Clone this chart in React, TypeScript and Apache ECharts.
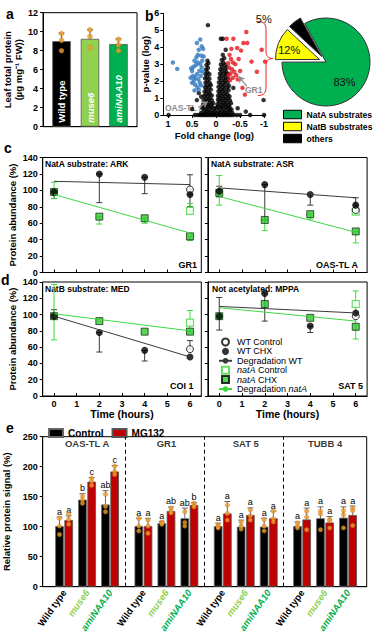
import React, { useEffect, useRef } from 'react';
import * as echarts from 'echarts';

const FONT = '"Liberation Sans", Arial, sans-serif';

// ---------- panel a ----------
const genotypes = ['Wild type', 'muse6', 'amiNAA10'];
const genotypeColors = ['#000000', '#92D050', '#00B050'];
const leafProtein = [9.0, 9.25, 8.7];
const leafProteinSd = [0.85, 0.95, 0.55];
const leafProteinDots = [[9.8, 9.1, 8.0], [10.2, 9.5, 8.3], [9.2, 8.6, 8.0]];

// ---------- panel b ----------
const volcanoOthers = [
  [0.99, 0], [0.44, 0], [0.38, 0], [0.33, 0], [0.29, 0], [0.25, 0], [0.21, 0], [0.17, 0], [0.13, 0], [0.09, 0], [0.05, 0], [0.01, 0],
  [-0.03, 0], [-0.07, 0], [-0.11, 0], [-0.15, 0], [-0.19, 0], [-0.23, 0], [-0.27, 0], [-0.31, 0], [-0.36, 0], [-0.43, 0], [-0.5, 0], [-0.71, 0], [-1.0, 0],
  [0.31, 0.12], [0.26, 0.18], [0.22, 0.1], [0.19, 0.25], [0.15, 0.15], [0.11, 0.22], [0.07, 0.12], [0.03, 0.2], [-0.01, 0.1], [-0.05, 0.24],
  [-0.09, 0.14], [-0.13, 0.2], [-0.17, 0.1], [-0.21, 0.22], [-0.25, 0.15], [-0.29, 0.25], [-0.34, 0.12],
  [0.28, 0.38], [0.24, 0.45], [0.2, 0.35], [0.16, 0.5], [0.12, 0.4], [0.08, 0.48], [0.04, 0.36], [0, 0.42], [-0.04, 0.5], [-0.08, 0.38],
  [-0.12, 0.47], [-0.16, 0.35], [-0.2, 0.5], [-0.24, 0.4], [-0.28, 0.46], [-0.32, 0.33],
  [0.27, 0.62], [0.22, 0.7], [0.18, 0.6], [0.14, 0.72], [0.1, 0.62], [0.06, 0.7], [-0.03, 0.64], [-0.07, 0.75], [-0.11, 0.6], [-0.15, 0.72],
  [-0.19, 0.62], [-0.23, 0.74], [-0.27, 0.6], [-0.31, 0.7],
  [0.26, 0.88], [0.21, 0.95], [0.17, 0.85], [0.13, 0.98], [0.09, 0.88], [-0.04, 0.9], [-0.08, 1.0], [-0.12, 0.86], [-0.16, 0.97], [-0.2, 0.88],
  [-0.25, 0.98], [-0.29, 0.86],
  [0.25, 1.12], [0.21, 1.22], [0.17, 1.1], [0.13, 1.25], [0.09, 1.15], [-0.04, 1.14], [-0.08, 1.26], [-0.12, 1.12], [-0.16, 1.24], [-0.2, 1.1],
  [-0.24, 1.2], [-0.28, 1.1],
  [0.24, 1.38], [0.2, 1.48], [0.16, 1.36], [0.11, 1.5], [-0.05, 1.4], [-0.09, 1.52], [-0.13, 1.38], [-0.17, 1.5], [-0.21, 1.36], [-0.26, 1.46],
  [0.23, 1.64], [0.19, 1.74], [0.15, 1.62], [0.11, 1.76], [-0.05, 1.66], [-0.1, 1.78], [-0.14, 1.64], [-0.18, 1.76], [-0.23, 1.62], [-0.27, 1.72],
  [0.22, 1.9], [0.18, 2.0], [0.13, 1.88], [-0.06, 1.92], [-0.1, 2.04], [-0.15, 1.9], [-0.19, 2.02], [-0.24, 1.9],
  [0.23, 2.16], [0.19, 2.26], [0.14, 2.14], [-0.07, 2.18], [-0.11, 2.3], [-0.16, 2.16], [-0.2, 2.28], [-0.25, 2.14],
  [0.22, 2.42], [0.18, 2.52], [0.14, 2.4], [-0.08, 2.44], [-0.12, 2.56], [-0.17, 2.42], [-0.21, 2.54], [-0.25, 2.42],
  [0.21, 2.68], [0.17, 2.78], [-0.09, 2.7], [-0.13, 2.82], [-0.18, 2.68], [-0.22, 2.8],
  [0.2, 2.95], [0.16, 3.05], [0.18, 3.2], [-0.1, 2.98], [-0.15, 3.08], [-0.19, 2.96], [-0.12, 3.25], [-0.17, 3.35], [-0.14, 3.55],
  [0.17, 5.3], [-0.1, 4.5], [-0.14, 4.5], [-0.2, 3.85], [0.4, 0.88], [0.31, 1.08], [-0.99, 0.88], [-0.45, 0.4], [0.5, 0.35], [-0.62, 0.2],
  [0.36, 1.3], [-0.36, 1.6],
];
const volcanoBlue = [
  [0.9, 3.1], [0.81, 2.72], [0.4, 4.25], [0.33, 4.45], [0.3, 4.05], [0.36, 3.85], [0.27, 3.9], [0.38, 3.55], [0.31, 3.5], [0.45, 3.2],
  [0.42, 2.95], [0.5, 2.6], [0.48, 2.3], [0.46, 2.05], [0.4, 2.4], [0.35, 2.6], [0.33, 3.0], [0.29, 3.2], [0.44, 1.8], [0.39, 1.65],
  [0.5, 1.9], [0.53, 2.2], [0.37, 2.1], [0.34, 1.9], [0.3, 2.8], [0.41, 3.4], [0.47, 2.85], [0.36, 1.5], [0.32, 2.3], [0.28, 2.55],
  [0.52, 2.75], [0.43, 2.2], [0.38, 3.1], [0.26, 3.45], [0.31, 1.75], [0.45, 1.45],
];
const volcanoRed = [
  [-0.22, 4.5], [-0.36, 4.5], [-0.63, 4.9], [-0.57, 4.25], [-0.65, 4.25], [-0.44, 3.95], [-0.52, 3.8], [-0.95, 3.85], [-1.02, 3.15],
  [-0.74, 3.15], [-0.85, 2.55], [-0.6, 1.2], [-0.28, 3.55], [-0.31, 3.3], [-0.25, 3.05], [-0.35, 3.1], [-0.4, 3.0], [-0.27, 2.8],
  [-0.33, 2.7], [-0.38, 2.55], [-0.3, 2.45], [-0.42, 2.35], [-0.26, 2.35], [-0.35, 2.2], [-0.45, 2.1], [-0.29, 2.05], [-0.5, 2.6],
  [-0.47, 3.3], [-0.55, 1.6], [-0.32, 3.9],
];
const foldTicks = [1, 0.5, 0, -0.5, -1];
const pieNames = ['NatA substrates', 'NatB substrates', 'others'];
const pieValues = [83, 12, 5];
const pieColors = ['#00B050', '#FFFF00', '#000000'];

// ---------- panels c, d ----------
const hours = [0, 2, 4, 6];
const timeTicks = [0, 1, 2, 3, 4, 5, 6];
const panelTitles = ['NatA substrate: ARK', 'NatA substrate: ASR', 'NatB substrate: MED', 'Not acetylated: MPPA'];
const panelProteins = ['GR1', 'OAS-TL A', 'COI 1', 'SAT 5'];
const wtChx = [[98, 120, 116, 95], [99, 107, 95, 82], [98, 78, 56, 48], [98, 126, 86, 102]];
const wtControl6 = [101, 76, 57.5, 98];
const natChx = [[98, 68, 66, 44], [97, 64, 71, 50], [98, 92, 79, 79], [98, 113, 96, 85]];
const natControl6 = [75, 74, 90, 113];
const wtFit = [[111, 107], [103, 91], [98, 48], [110, 102]];
const natFit = [[95, 48], [92.5, 49], [101, 80], [108.5, 92]];
const wtErr = [
  [[0, 90, 99], [2, 85, 120], [4, 96, 116], [6, 80, 95], [6, 101, 119]],
  [[0, 92, 105], [2, 64, 107], [4, 82, 95], [6, 82, 91]],
  [[0, 98, 106], [2, 54, 78], [4, 43, 56], [6, 57.5, 68]],
  [[0, 81, 121], [2, 92, 126], [4, 78, 86]],
];
const natErr = [
  [[0, 90, 110], [2, 59, 68], [4, 60, 66], [6, 39, 44], [6, 75, 84]],
  [[0, 82, 118], [2, 51, 64], [4, 65, 71], [6, 36, 50]],
  [[0, 69, 137], [6, 79, 105]],
  [[6, 70, 129]],
];
const legendNames = ['WT Control', 'WT CHX', 'Degradation WT', 'natA Control', 'natA CHX', 'Degradation natA'];

// ---------- panel e ----------
const proteins = ['OAS-TL A', 'GR1', 'SAT 5', 'TUBB 4'];
const controlMean = [[101, 145, 137], [101, 106, 114], [101, 100, 100], [101, 114, 115]];
const controlSd = [[15, 10, 23], [13, 3, 17], [5, 11, 14], [7, 19, 18]];
const mg132Mean = [[111, 175, 192], [101, 126, 136], [122, 119.5, 114], [112, 107, 119.5]];
const mg132Sd = [[7, 7, 10], [13, 7, 4], [20, 12, 12], [19, 10, 15]];
const controlDots = [
  [[114, 101, 87], [151, 145, 139], [154, 134, 125]],
  [[114, 101, 93], [108, 106, 104], [125, 107, 101]],
  [[103, 100, 98], [108, 101, 96], [112, 101, 93]],
  [[106, 101, 98], [126, 121, 95], [127, 120, 98]],
];
const mg132Dots = [
  [[121, 112, 104], [181, 176, 169], [201, 192, 187]],
  [[111, 101, 89], [131, 126, 123], [139, 136, 133]],
  [[136, 122, 111], [128, 118, 111], [126, 113, 108]],
  [[126, 116, 95], [112, 110, 98], [131, 127, 102]],
];
const controlLetters = [['a', 'b', 'ab'], ['a', 'a', 'ab'], ['a', 'a', 'a'], ['a', 'a', 'a']];
const mg132Letters = [['a', 'c', 'c'], ['a', 'ab', 'b'], ['a', 'a', 'a'], ['a', 'a', 'a']];

// layout constants (positions of groups on the e x axis)
const GROUP_STEP = 3.45;
const PAIR_OFFSET = 0.2;
const GREEN = '#3FD83F';
const GREEN_FILL = '#2BCB2B';
const ORANGE = '#EE9E30';
const SQUARE = 'path://M0,0L10,0L10,10L0,10Z';

echarts.graphic.registerShape(
  'brace',
  echarts.graphic.extendPath(
    'M0 0 C6 0 8 3 8 8 L8 30 C8 34 10 37 15 37 C10 37 8 40 8 44 L8 66 C8 71 6 74 0 74',
    {}
  )
);

function errorRenderer(color: string, cap: number, topOnly = false, letters?: string[]) {
  return (params: any, api: any) => {
    const x = api.value(0);
    const lo = api.coord([x, api.value(1)]);
    const hi = api.coord([x, api.value(2)]);
    const style = { stroke: color, lineWidth: 1 };
    const children: any[] = [
      { type: 'line', shape: { x1: lo[0], y1: lo[1], x2: hi[0], y2: hi[1] }, style },
      { type: 'line', shape: { x1: hi[0] - cap, y1: hi[1], x2: hi[0] + cap, y2: hi[1] }, style },
    ];
    if (!topOnly) {
      children.push({ type: 'line', shape: { x1: lo[0] - cap, y1: lo[1], x2: lo[0] + cap, y2: lo[1] }, style });
    }
    if (letters) {
      children.push({
        type: 'text',
        x: hi[0],
        y: hi[1] - 1,
        style: {
          text: letters[params.dataIndex],
          fill: '#000',
          fontSize: 9,
          fontFamily: FONT,
          align: 'center',
          verticalAlign: 'bottom',
          textAlign: 'center',
          textVerticalAlign: 'bottom',
        },
      });
    }
    return { type: 'group', children };
  };
}

function buildOption() {
  const axisLine = { show: true, onZero: false, lineStyle: { color: '#000', width: 1 } };
  const tickLbl = { fontSize: 9, fontWeight: 'bold', color: '#000', fontFamily: FONT };
  const nameStyle = { fontSize: 9.5, fontWeight: 'bold', color: '#000', fontFamily: FONT };

  const grids: any[] = [
    { left: 43, top: 12.7, width: 94, height: 114, show: true, borderColor: '#000', borderWidth: 1 },
    { left: 163.3, top: 13.3, width: 102.2, height: 101.7 },
    { left: 42.7, top: 157.5, width: 158.6, height: 115, show: true, borderColor: '#000', borderWidth: 1 },
    { left: 207.9, top: 157.5, width: 159.2, height: 115, show: true, borderColor: '#000', borderWidth: 1 },
    { left: 42.7, top: 282, width: 158.6, height: 114, show: true, borderColor: '#000', borderWidth: 1 },
    { left: 207.9, top: 282, width: 159.2, height: 114, show: true, borderColor: '#000', borderWidth: 1 },
    { left: 42.7, top: 436.7, width: 324, height: 150, show: true, borderColor: '#000', borderWidth: 1 },
  ].map((g) => ({ ...g, outerBoundsMode: 'none', containLabel: false }));

  // e-axis positions
  const ePos: number[] = [];
  proteins.forEach((_, g) => genotypes.forEach((__, j) => ePos.push(g * GROUP_STEP + j)));
  const ePosGenotype = new Map<string, number>();
  ePos.forEach((p, i) => ePosGenotype.set(p.toFixed(2), i % 3));
  const boundaries = [1, 2, 3].map((g) => g * GROUP_STEP - 0.8);

  const xAxes: any[] = [
    { gridIndex: 0, type: 'value', min: -0.65, max: 2.65, axisLine, axisTick: { show: false }, axisLabel: { show: false }, splitLine: { show: false } },
    {
      gridIndex: 1, type: 'value', min: -1.03, max: 1.1, inverse: true, axisLine,
      axisTick: { show: true, length: 3, customValues: foldTicks },
      axisLabel: { ...tickLbl, margin: 4, customValues: foldTicks, formatter: (v: number) => String(v) },
      splitLine: { show: false },
      name: 'Fold change (log)', nameLocation: 'middle', nameGap: 15, nameTextStyle: nameStyle,
    },
  ];
  const yAxes: any[] = [
    {
      gridIndex: 0, type: 'value', min: 0, max: 12, interval: 2, axisLine,
      axisTick: { show: true, length: 3 }, axisLabel: { ...tickLbl, margin: 5 }, splitLine: { show: false },
      name: 'Leaf total protein\n(µg mg⁻¹ FW))', nameLocation: 'middle', nameGap: 13,
      nameTextStyle: { ...nameStyle, lineHeight: 11 },
    },
    {
      gridIndex: 1, type: 'value', min: 0, max: 6, interval: 1, axisLine,
      axisTick: { show: true, length: 3 }, axisLabel: { ...tickLbl, margin: 4 }, splitLine: { show: false },
      name: 'p-value (log)', nameLocation: 'middle', nameGap: 10, nameTextStyle: nameStyle,
    },
  ];
  for (let k = 0; k < 4; k++) {
    const isBottom = k >= 2;
    const isLeft = k % 2 === 0;
    xAxes.push({
      gridIndex: 2 + k, type: 'value', min: -0.5, max: 6.5, axisLine,
      axisTick: { show: true, inside: true, length: 3, customValues: timeTicks },
      axisLabel: { ...tickLbl, show: isBottom, margin: 3, customValues: timeTicks },
      splitLine: { show: false },
      name: isBottom ? 'Time (hours)' : '', nameLocation: 'middle', nameGap: 11,
      nameTextStyle: { ...nameStyle, fontSize: 10.5 },
    });
    yAxes.push({
      gridIndex: 2 + k, type: 'value', min: 0, max: 140, interval: 20, axisLine,
      axisTick: { show: true, length: 3 },
      axisLabel: { ...tickLbl, show: isLeft, margin: 5 },
      splitLine: { show: false },
      name: isLeft ? 'Protein abundance (%)' : '', nameLocation: 'middle', nameGap: 25, nameTextStyle: nameStyle,
    });
  }
  xAxes.push({
    gridIndex: 6, type: 'value', min: -0.93, max: 13.16, axisLine,
    axisTick: { show: false },
    axisLabel: {
      customValues: ePos, rotate: 55, margin: 4, fontFamily: FONT,
      formatter: (v: number) => {
        const j = ePosGenotype.get(v.toFixed(2)) ?? 0;
        return `{g${j}|${genotypes[j]}}`;
      },
      rich: {
        g0: { color: genotypeColors[0], fontWeight: 'bold', fontSize: 9.5, fontFamily: FONT },
        g1: { color: genotypeColors[1], fontWeight: 'bold', fontStyle: 'italic', fontSize: 9.5, fontFamily: FONT },
        g2: { color: genotypeColors[2], fontWeight: 'bold', fontStyle: 'italic', fontSize: 9.5, fontFamily: FONT },
      },
    },
    splitLine: { show: false },
  });
  yAxes.push({
    gridIndex: 6, type: 'value', min: 0, max: 250, interval: 50, axisLine,
    axisTick: { show: true, length: 3 }, axisLabel: { ...tickLbl, margin: 5 }, splitLine: { show: false },
    name: 'Relative protein signal (%)', nameLocation: 'middle', nameGap: 26, nameTextStyle: nameStyle,
  });

  const series: any[] = [];

  // ----- a -----
  series.push({
    type: 'bar', name: 'Leaf protein', xAxisIndex: 0, yAxisIndex: 0, barWidth: 18.5,
    data: genotypes.map((g, i) => ({
      value: [i, leafProtein[i]],
      itemStyle: { color: genotypeColors[i], borderColor: '#555', borderWidth: 0.8 },
      label: { fontStyle: i === 0 ? 'normal' : 'italic' },
    })),
    label: {
      show: true, position: 'insideBottom', rotate: 90, align: 'left', verticalAlign: 'middle', distance: 4,
      color: '#fff', fontSize: 9.5, fontWeight: 'bold', fontFamily: FONT,
      formatter: (p: any) => genotypes[p.dataIndex],
    },
  });
  series.push({
    type: 'custom', name: 'a-err', xAxisIndex: 0, yAxisIndex: 0,
    renderItem: errorRenderer('#555', 3, true),
    encode: { x: 0, y: [1, 2] },
    data: genotypes.map((_, i) => [i, leafProtein[i], leafProtein[i] + leafProteinSd[i]]),
  });
  series.push({
    type: 'scatter', name: 'a-dots', xAxisIndex: 0, yAxisIndex: 0, symbolSize: 5,
    itemStyle: { color: ORANGE, borderColor: '#B56A12', borderWidth: 0.4 },
    data: leafProteinDots.flatMap((ds, i) => ds.map((d) => [i, d])),
  });

  // ----- b -----
  series.push({
    type: 'scatter', name: 'volcano-others', xAxisIndex: 1, yAxisIndex: 1, symbolSize: 4.5,
    itemStyle: { color: '#000' }, data: volcanoOthers,
    markLine: {
      silent: true, symbol: ['none', 'arrow'], symbolSize: 6, label: { show: false },
      lineStyle: { color: '#8c8c8c', width: 1.3, type: 'solid' },
      data: [
        [{ coord: [0.37, 0.45] }, { coord: [0.17, 0.78] }],
        [{ coord: [-0.64, 1.7] }, { coord: [-0.47, 2.28] }],
      ],
    },
  });
  series.push({ type: 'scatter', name: 'volcano-up', xAxisIndex: 1, yAxisIndex: 1, symbolSize: 4.5, itemStyle: { color: '#2F78BE' }, data: volcanoBlue });
  series.push({ type: 'scatter', name: 'volcano-down', xAxisIndex: 1, yAxisIndex: 1, symbolSize: 4.5, itemStyle: { color: '#E4161E' }, data: volcanoRed });
  series.push({
    type: 'pie', name: 'substrates', center: [326, 62], radius: 44, startAngle: 119, clockwise: true,
    selectedMode: 'multiple', selectedOffset: 7, avoidLabelOverlap: false,
    itemStyle: { borderColor: '#333', borderWidth: 1 },
    labelLine: { show: false, length: 3, length2: 0 },
    data: pieNames.map((n, i) => ({
      name: n,
      value: pieValues[i],
      selected: i > 0,
      itemStyle: { color: pieColors[i] },
      labelLine: { show: false, length: 3, length2: 0 },
      label: {
        show: true, position: i === 2 ? 'outside' : 'inside', color: '#111', fontSize: 11, fontFamily: FONT,
        lineHeight: i === 0 ? 14 : 12,
        formatter: (p: any) => (i === 0 ? `\n${p.value}%  ` : `${p.value}%`),
        padding: i === 0 ? [0, 0, 0, 0] : i === 1 ? [0, 14, 10, 0] : [0, 16, 4, 0],
      },
    })),
  });

  // ----- c, d -----
  for (let k = 0; k < 4; k++) {
    const ax = { xAxisIndex: 2 + k, yAxisIndex: 2 + k };
    series.push(
      { type: 'line', name: 'Degradation WT', ...ax, symbol: 'none', data: [[0, wtFit[k][0]], [6, wtFit[k][1]]], lineStyle: { color: '#3a3a3a', width: 1 }, itemStyle: { color: '#3a3a3a' } },
      { type: 'line', name: 'Degradation natA', ...ax, symbol: 'none', data: [[0, natFit[k][0]], [6, natFit[k][1]]], lineStyle: { color: GREEN, width: 1 }, itemStyle: { color: GREEN } },
      { type: 'custom', name: 'wt-err', ...ax, renderItem: errorRenderer('#3a3a3a', 3), encode: { x: 0, y: [1, 2] }, data: wtErr[k] },
      { type: 'custom', name: 'nat-err', ...ax, renderItem: errorRenderer(GREEN, 3), encode: { x: 0, y: [1, 2] }, data: natErr[k] },
      { type: 'scatter', name: 'natA Control', ...ax, symbol: SQUARE, symbolKeepAspect: true, symbolSize: 7, itemStyle: { color: '#fff', borderColor: GREEN, borderWidth: 1.2 }, data: [[6, natControl6[k]]] },
      { type: 'scatter', name: 'natA CHX', ...ax, symbol: SQUARE, symbolKeepAspect: true, symbolSize: 7, itemStyle: { color: GREEN_FILL, borderColor: '#000', borderWidth: 0.8 }, data: hours.map((t, i) => [t, natChx[k][i]]) },
      { type: 'scatter', name: 'WT Control', ...ax, symbol: 'circle', symbolSize: 7, itemStyle: { color: '#fff', borderColor: '#000', borderWidth: 1 }, data: [[6, wtControl6[k]]] },
      { type: 'scatter', name: 'WT CHX', ...ax, symbol: 'circle', symbolSize: 7, itemStyle: { color: '#000' }, data: hours.map((t, i) => [t, wtChx[k][i]]) },
    );
  }

  // ----- e -----
  const eAx = { xAxisIndex: 6, yAxisIndex: 6 };
  const ctrlBars: any[] = [];
  const mgBars: any[] = [];
  const ctrlErr: any[] = [];
  const mgErr: any[] = [];
  const ctrlLet: string[] = [];
  const mgLet: string[] = [];
  const dots: any[] = [];
  proteins.forEach((_, g) => {
    genotypes.forEach((__, j) => {
      const base = g * GROUP_STEP + j;
      ctrlBars.push([base - PAIR_OFFSET, controlMean[g][j]]);
      mgBars.push([base + PAIR_OFFSET, mg132Mean[g][j]]);
      ctrlErr.push([base - PAIR_OFFSET, controlMean[g][j], controlMean[g][j] + controlSd[g][j]]);
      mgErr.push([base + PAIR_OFFSET, mg132Mean[g][j], mg132Mean[g][j] + mg132Sd[g][j]]);
      ctrlLet.push(controlLetters[g][j]);
      mgLet.push(mg132Letters[g][j]);
      controlDots[g][j].forEach((d) => dots.push([base - PAIR_OFFSET, d]));
      mg132Dots[g][j].forEach((d) => dots.push([base + PAIR_OFFSET, d]));
    });
  });
  series.push({
    type: 'bar', name: 'Control', ...eAx, barWidth: 8.6, barGap: '-100%', data: ctrlBars,
    itemStyle: { color: '#000', borderColor: '#666', borderWidth: 0.8 },
    markLine: {
      silent: true, symbol: 'none', label: { show: false },
      lineStyle: { color: '#000', width: 1, type: [4, 3] },
      data: boundaries.map((b) => ({ xAxis: b })),
    },
  });
  series.push({ type: 'bar', name: 'MG132', ...eAx, barWidth: 8.6, barGap: '-100%', data: mgBars, itemStyle: { color: '#C00000', borderColor: '#555', borderWidth: 0.8 } });
  series.push({ type: 'custom', name: 'ctrl-err', ...eAx, renderItem: errorRenderer('#6b6b6b', 3, true, ctrlLet), encode: { x: 0, y: [1, 2] }, data: ctrlErr });
  series.push({ type: 'custom', name: 'mg-err', ...eAx, renderItem: errorRenderer('#6b6b6b', 3, true, mgLet), encode: { x: 0, y: [1, 2] }, data: mgErr });
  series.push({ type: 'scatter', name: 'e-dots', ...eAx, symbolSize: 4.5, itemStyle: { color: ORANGE, borderColor: '#B56A12', borderWidth: 0.4 }, data: dots });
  series.push({
    type: 'scatter', name: 'e-titles', ...eAx, symbolSize: 0, silent: true,
    data: proteins.map((_, g) => [g * GROUP_STEP + 1, 238]),
    label: { show: true, position: 'inside', formatter: (p: any) => proteins[p.dataIndex], fontSize: 9.5, fontWeight: 'bold', color: '#000', fontFamily: FONT },
  });

  const txt = (text: string, left: number, top: number, size = 9, extra: any = {}) => ({
    type: 'text', left, top, silent: true,
    style: { text, fill: '#000', fontSize: size, fontWeight: 'bold', fontFamily: FONT, ...extra },
  });
  const rtxt = (text: string, right: number, top: number, size = 9) => ({
    type: 'text', right, top, silent: true,
    style: { text, fill: '#000', fontSize: size, fontWeight: 'bold', fontFamily: FONT },
  });

  const graphic: any[] = [
    txt('a', 6, 7, 14),
    txt('b', 145, 9, 14),
    txt('c', 4, 141, 14),
    txt('d', 1, 273, 14),
    txt('e', 6, 421, 14),
    txt('OAS-TL A', 165, 103.5, 8.5, { fill: '#8c8c8c' }),
    txt('GR1', 245, 85.5, 8.5, { fill: '#8c8c8c' }),
    { type: 'brace', x: 258, y: 21.5, silent: true, style: { stroke: '#F02020', fill: 'none', lineWidth: 1 } },
    txt(panelTitles[0], 45, 159.5, 8.5),
    txt(panelTitles[1], 211, 159.5, 8.5),
    txt(panelTitles[2], 45, 284, 8.5),
    txt(panelTitles[3], 212, 284, 8.5),
    rtxt(panelProteins[0], 180, 260, 9),
    rtxt(panelProteins[1], 18.5, 260, 9),
    rtxt(panelProteins[2], 183.5, 381, 9),
    rtxt(panelProteins[3], 14, 381, 9),
  ];

  return {
    animation: false,
    backgroundColor: '#fff',
    textStyle: { fontFamily: FONT },
    grid: grids,
    xAxis: xAxes,
    yAxis: yAxes,
    legend: [
      {
        data: pieNames, orient: 'vertical', left: 278, top: 104.5, itemWidth: 18, itemHeight: 8.5, itemGap: 2,
        icon: 'rect', selectedMode: false,
        itemStyle: { borderColor: '#000', borderWidth: 1 },
        textStyle: { fontSize: 8.6, fontWeight: 'bold', color: '#000', fontFamily: FONT, lineHeight: 10 },
      },
      {
        data: legendNames, orient: 'vertical', left: 213, top: 332.5, itemWidth: 13, itemHeight: 7, itemGap: 0.4,
        selectedMode: false,
        formatter: (n: string) => n.replace('natA', '{i|natA}'),
        textStyle: {
          fontSize: 9, color: '#000', fontFamily: FONT, lineHeight: 9,
          rich: { i: { fontStyle: 'italic', fontSize: 9, fontFamily: FONT, color: '#000', lineHeight: 9 } },
        },
      },
      {
        data: ['Control', 'MG132'], orient: 'horizontal', left: 43, top: 423, itemWidth: 14, itemHeight: 8, itemGap: 8,
        icon: 'rect', selectedMode: false,
        textStyle: { fontSize: 10, fontWeight: 'bold', color: '#000', fontFamily: FONT },
      },
    ],
    series,
    graphic,
  };
}

export default function App() {
  const ref = useRef<HTMLDivElement>(null);
  useEffect(() => {
    if (!ref.current) return;
    const chart = echarts.init(ref.current, undefined, { renderer: 'svg' });
    chart.setOption(buildOption() as any);
    return () => chart.dispose();
  }, []);
  return <div ref={ref} style={{ position: 'absolute', left: 0, top: 0, width: 377, height: 644 }} />;
}
